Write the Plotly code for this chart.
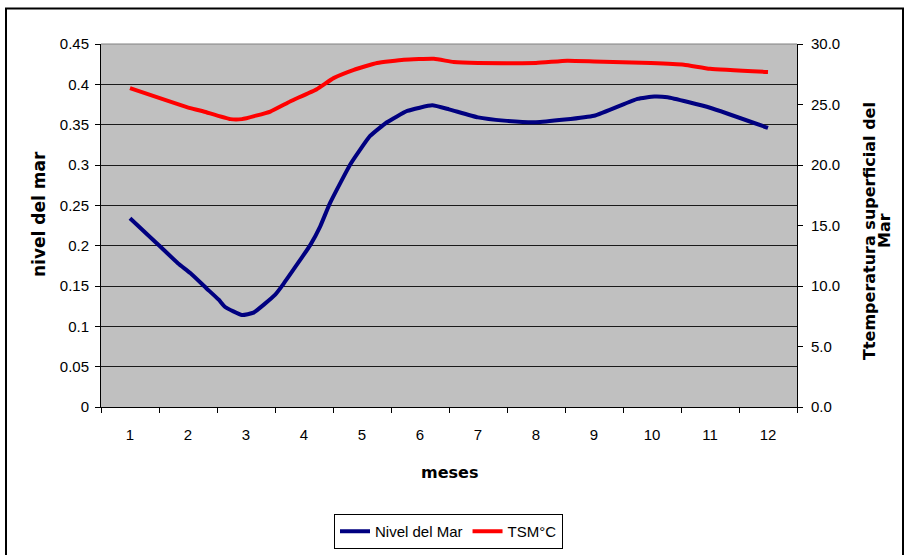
import plotly.graph_objects as go

# ---- data ----
months_nivel = [1.00, 1.46, 1.83, 2.04, 2.32, 2.53, 2.64, 2.93, 3.13, 3.50, 3.65, 4.11, 4.28, 4.45,
                4.80, 5.14, 5.43, 5.78, 6.21, 6.50, 7.00, 7.45, 8.00, 9.00, 9.75, 10.04, 10.27, 11.00, 12.00]
nivel_mar = [0.234, 0.203, 0.178, 0.166, 0.147, 0.133, 0.124, 0.114, 0.117, 0.139, 0.153, 0.201, 0.224, 0.253,
             0.301, 0.336, 0.353, 0.367, 0.374, 0.369, 0.359, 0.355, 0.353, 0.361, 0.382, 0.385, 0.384, 0.371, 0.346]

months_tsm = [1.00, 2.04, 2.27, 2.73, 2.93, 3.42, 3.76, 4.22, 4.51, 4.86, 5.26, 5.72, 6.24, 6.58,
              7.00, 8.00, 8.54, 9.00, 9.98, 10.55, 11.00, 12.00]
tsm = [26.36, 24.70, 24.42, 23.79, 23.79, 24.42, 25.25, 26.27, 27.18, 27.87, 28.43, 28.70, 28.78, 28.51,
       28.43, 28.43, 28.62, 28.56, 28.43, 28.29, 27.95, 27.68]

month_ticks = list(range(1, 13))
month_labels = [str(m) for m in month_ticks]
month_bounds = [m + 0.5 for m in range(0, 13)]
left_tickvals = [0, 0.05, 0.1, 0.15, 0.2, 0.25, 0.3, 0.35, 0.4, 0.45]
left_ticktext = ["0", "0.05", "0.1", "0.15", "0.2", "0.25", "0.3", "0.35", "0.4", "0.45"]
right_tickvals = [0, 5, 10, 15, 20, 25, 30]

FONT = "Liberation Sans, Arial, sans-serif"
BOLD = "DejaVu Sans, Arial, sans-serif"

fig = go.Figure()
fig.add_trace(go.Scatter(x=months_nivel, y=nivel_mar, name="Nivel del Mar", mode="lines",
                         line=dict(color="#000080", width=4, shape="spline", smoothing=0.4),
                         yaxis="y"))
fig.add_trace(go.Scatter(x=months_tsm, y=tsm, name="TSM\u00b0C", mode="lines",
                         line=dict(color="#FF0000", width=4, shape="spline", smoothing=0.4),
                         yaxis="y2"))

W, H = 905, 555
L, R, T, B = 101, 797, 44, 407


def px(xp):
    return (xp - L) / (R - L)


def py(yp):
    return (B - yp) / (B - T)


fig.update_layout(
    width=W, height=H,
    margin=dict(l=L, r=W - R, t=T, b=H - B, pad=0, autoexpand=False),
    paper_bgcolor="white", plot_bgcolor="#C0C0C0",
    font=dict(family=FONT, size=15, color="black"),
    showlegend=True,
    legend=dict(orientation="h", x=px(448.5), xanchor="center", y=py(514), yanchor="top",
                bgcolor="white", bordercolor="black", borderwidth=1,
                font=dict(family=FONT, size=15, color="black"),
                itemwidth=30, tracegroupgap=0),
    xaxis=dict(range=[0.5, 12.5], tickmode="array", tickvals=month_ticks, ticktext=month_labels,
               ticks="", showgrid=False, zeroline=False, showline=True, linecolor="black",
               linewidth=1, ticklabelstandoff=14,
               minor=dict(tickmode="array", tickvals=month_bounds, ticks="outside", ticklen=5,
                          tickcolor="black", tickwidth=1, showgrid=False)),
    yaxis=dict(range=[0, 0.45], tickmode="array", tickvals=left_tickvals, ticktext=left_ticktext,
               ticks="outside", ticklen=5, tickcolor="black", showgrid=True, gridcolor="#1a1a1a",
               gridwidth=1, zeroline=False, showline=True, linecolor="black", linewidth=1,
               ticklabelstandoff=3),
    yaxis2=dict(range=[0, 30], overlaying="y", side="right", tickmode="array",
                tickvals=right_tickvals, tickformat=".1f", ticks="outside", ticklen=5,
                tickcolor="black", showgrid=False, zeroline=False, showline=True,
                linecolor="black", linewidth=1, ticklabelstandoff=5),
    annotations=[
        dict(text="<b>meses</b>", xref="paper", yref="paper", x=px(449.5), y=py(472),
             xanchor="center", yanchor="middle", showarrow=False,
             font=dict(family=BOLD, size=16, color="black")),
        dict(text="<b>nivel del mar</b>", xref="paper", yref="paper", x=px(39), y=py(214),
             xanchor="center", yanchor="middle", showarrow=False, textangle=-90,
             font=dict(family=BOLD, size=17, color="black")),
        dict(text="<b>Ttemperatura superficial del</b>", xref="paper", yref="paper", x=px(869),
             y=py(231), xanchor="center", yanchor="middle", showarrow=False, textangle=-90,
             font=dict(family=BOLD, size=16, color="black")),
        dict(text="<b>Mar</b>", xref="paper", yref="paper", x=px(884), y=py(231),
             xanchor="center", yanchor="middle", showarrow=False, textangle=-90,
             font=dict(family=BOLD, size=16, color="black")),
    ],
    shapes=[
        dict(type="rect", xref="paper", yref="paper", x0=px(6), x1=px(903), y0=py(570), y1=py(8.5),
             line=dict(color="black", width=2), fillcolor="rgba(0,0,0,0)", layer="below"),
        dict(type="line", xref="paper", yref="paper", x0=0, x1=1, y0=1, y1=1,
             line=dict(color="#808080", width=1)),
    ],
)

fig.write_html("out.html", config={"displayModeBar": False},
               post_script="document.body.style.margin='0';document.body.style.padding='0';")
